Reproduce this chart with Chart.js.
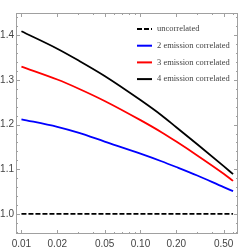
<!DOCTYPE html>
<html>
<head>
<script src="https://cdn.jsdelivr.net/npm/chart.js"></script>
<style>
  html, body { margin: 0; padding: 0; background: #fff; }
  #wrap { width: 240px; height: 250px; }
</style>
</head>
<body>
<div id="wrap"><canvas id="c"></canvas></div>
<script>
// values
const xs = [0.01, 0.02, 0.03, 0.05, 0.1, 0.15, 0.2, 0.3, 0.5, 0.6];
const uncorrelated = [1.0, 1.0, 1.0, 1.0, 1.0, 1.0, 1.0, 1.0, 1.0, 1.0];
const twoEmission = [1.212, 1.195, 1.182, 1.162, 1.135, 1.118, 1.105, 1.086, 1.060, 1.051];
const threeEmission = [1.330, 1.301, 1.281, 1.253, 1.210, 1.183, 1.162, 1.131, 1.090, 1.074];
const fourEmission = [1.409, 1.370, 1.344, 1.309, 1.255, 1.221, 1.194, 1.156, 1.107, 1.089];
const xTickLabels = [0.01, 0.02, 0.05, 0.1, 0.2, 0.5];
const xMinorTicks = [0.03, 0.04, 0.06, 0.07, 0.08, 0.09, 0.3, 0.4, 0.6];
const yTickLabels = [1.0, 1.1, 1.2, 1.3, 1.4];

const pts = ys => xs.map((x, i) => ({ x: x, y: ys[i] }));

const series = [
  { label: 'uncorrelated', data: pts(uncorrelated), borderColor: '#000', borderDash: [5, 2], borderWidth: 1.8 },
  { label: '2 emission correlated', data: pts(twoEmission), borderColor: '#0000ff', borderWidth: 1.8 },
  { label: '3 emission correlated', data: pts(threeEmission), borderColor: '#ff0000', borderWidth: 1.8 },
  { label: '4 emission correlated', data: pts(fourEmission), borderColor: '#000', borderWidth: 1.8 }
];

// Mathematica-style frame with inward ticks on all sides
const frameTicks = {
  id: 'frameTicks',
  afterDraw(chart) {
    const { ctx, chartArea: a, scales } = chart;
    const sx = scales.x, sy = scales.y;
    ctx.save();
    ctx.strokeStyle = '#a0a0a0';
    ctx.lineWidth = 1;
    ctx.strokeRect(a.left + 0.5, a.top + 0.5, a.right - a.left - 1, a.bottom - a.top - 1);
    const tick = (x1, y1, x2, y2) => {
      ctx.beginPath(); ctx.moveTo(x1, y1); ctx.lineTo(x2, y2); ctx.stroke();
    };
    xTickLabels.forEach(v => {
      const p = Math.round(sx.getPixelForValue(v)) + 0.5;
      tick(p, a.bottom, p, a.bottom - 4);
      tick(p, a.top, p, a.top + 4);
    });
    xMinorTicks.forEach(v => {
      const p = Math.round(sx.getPixelForValue(v)) + 0.5;
      tick(p, a.bottom, p, a.bottom - 2);
      tick(p, a.top, p, a.top + 2);
    });
    for (let v = 0.96; v <= 1.45; v += 0.02) {
      const major = Math.abs(v * 10 - Math.round(v * 10)) < 1e-6;
      const p = Math.round(sy.getPixelForValue(v)) + 0.5;
      const len = major ? 4 : 2;
      tick(a.left, p, a.left + len, p);
      tick(a.right, p, a.right - len, p);
    }
    ctx.restore();
  }
};

// legend drawn inside the plot, upper right
const insideLegend = {
  id: 'insideLegend',
  afterDraw(chart) {
    const { ctx } = chart;
    ctx.save();
    ctx.font = "8.5px 'Liberation Serif'";
    ctx.textBaseline = 'middle';
    chart.data.datasets.forEach((ds, i) => {
      const y = 29 + i * 16.7;
      ctx.strokeStyle = ds.borderColor;
      ctx.lineWidth = 2;
      ctx.setLineDash(ds.borderDash || []);
      ctx.beginPath(); ctx.moveTo(137, y); ctx.lineTo(152, y); ctx.stroke();
      ctx.setLineDash([]);
      ctx.fillStyle = '#444';
      ctx.fillText(ds.label, 157, y);
    });
    ctx.restore();
  }
};

new Chart(document.getElementById('c'), {
  type: 'line',
  data: { datasets: series },
  options: {
    responsive: true,
    maintainAspectRatio: false,
    animation: false,
    layout: { padding: { top: 13, right: 2, left: 0, bottom: 0 } },
    elements: { point: { radius: 0 }, line: { cubicInterpolationMode: 'monotone', fill: false } },
    plugins: { legend: { display: false }, tooltip: { enabled: false } },
    scales: {
      x: {
        type: 'logarithmic',
        min: 0.009,
        max: 0.66,
        grid: { display: false, drawTicks: false },
        border: { display: false },
        afterBuildTicks: s => { s.ticks = xTickLabels.map(v => ({ value: v })); },
        afterFit: s => { s.height = 16; },
        ticks: {
          autoSkip: false,
          maxRotation: 0,
          padding: 4,
          color: '#444',
          font: { family: 'Liberation Sans', size: 10 },
          callback: v => Number(v).toFixed(2)
        }
      },
      y: {
        min: 0.955,
        max: 1.45,
        grid: { display: false, drawTicks: false },
        border: { display: false },
        afterBuildTicks: s => { s.ticks = yTickLabels.map(v => ({ value: v })); },
        afterFit: s => { s.width = 16; },
        ticks: {
          padding: 2,
          color: '#444',
          font: { family: 'Liberation Sans', size: 10 },
          callback: v => Number(v).toFixed(1)
        }
      }
    }
  },
  plugins: [frameTicks, insideLegend]
});
</script>
</body>
</html>
